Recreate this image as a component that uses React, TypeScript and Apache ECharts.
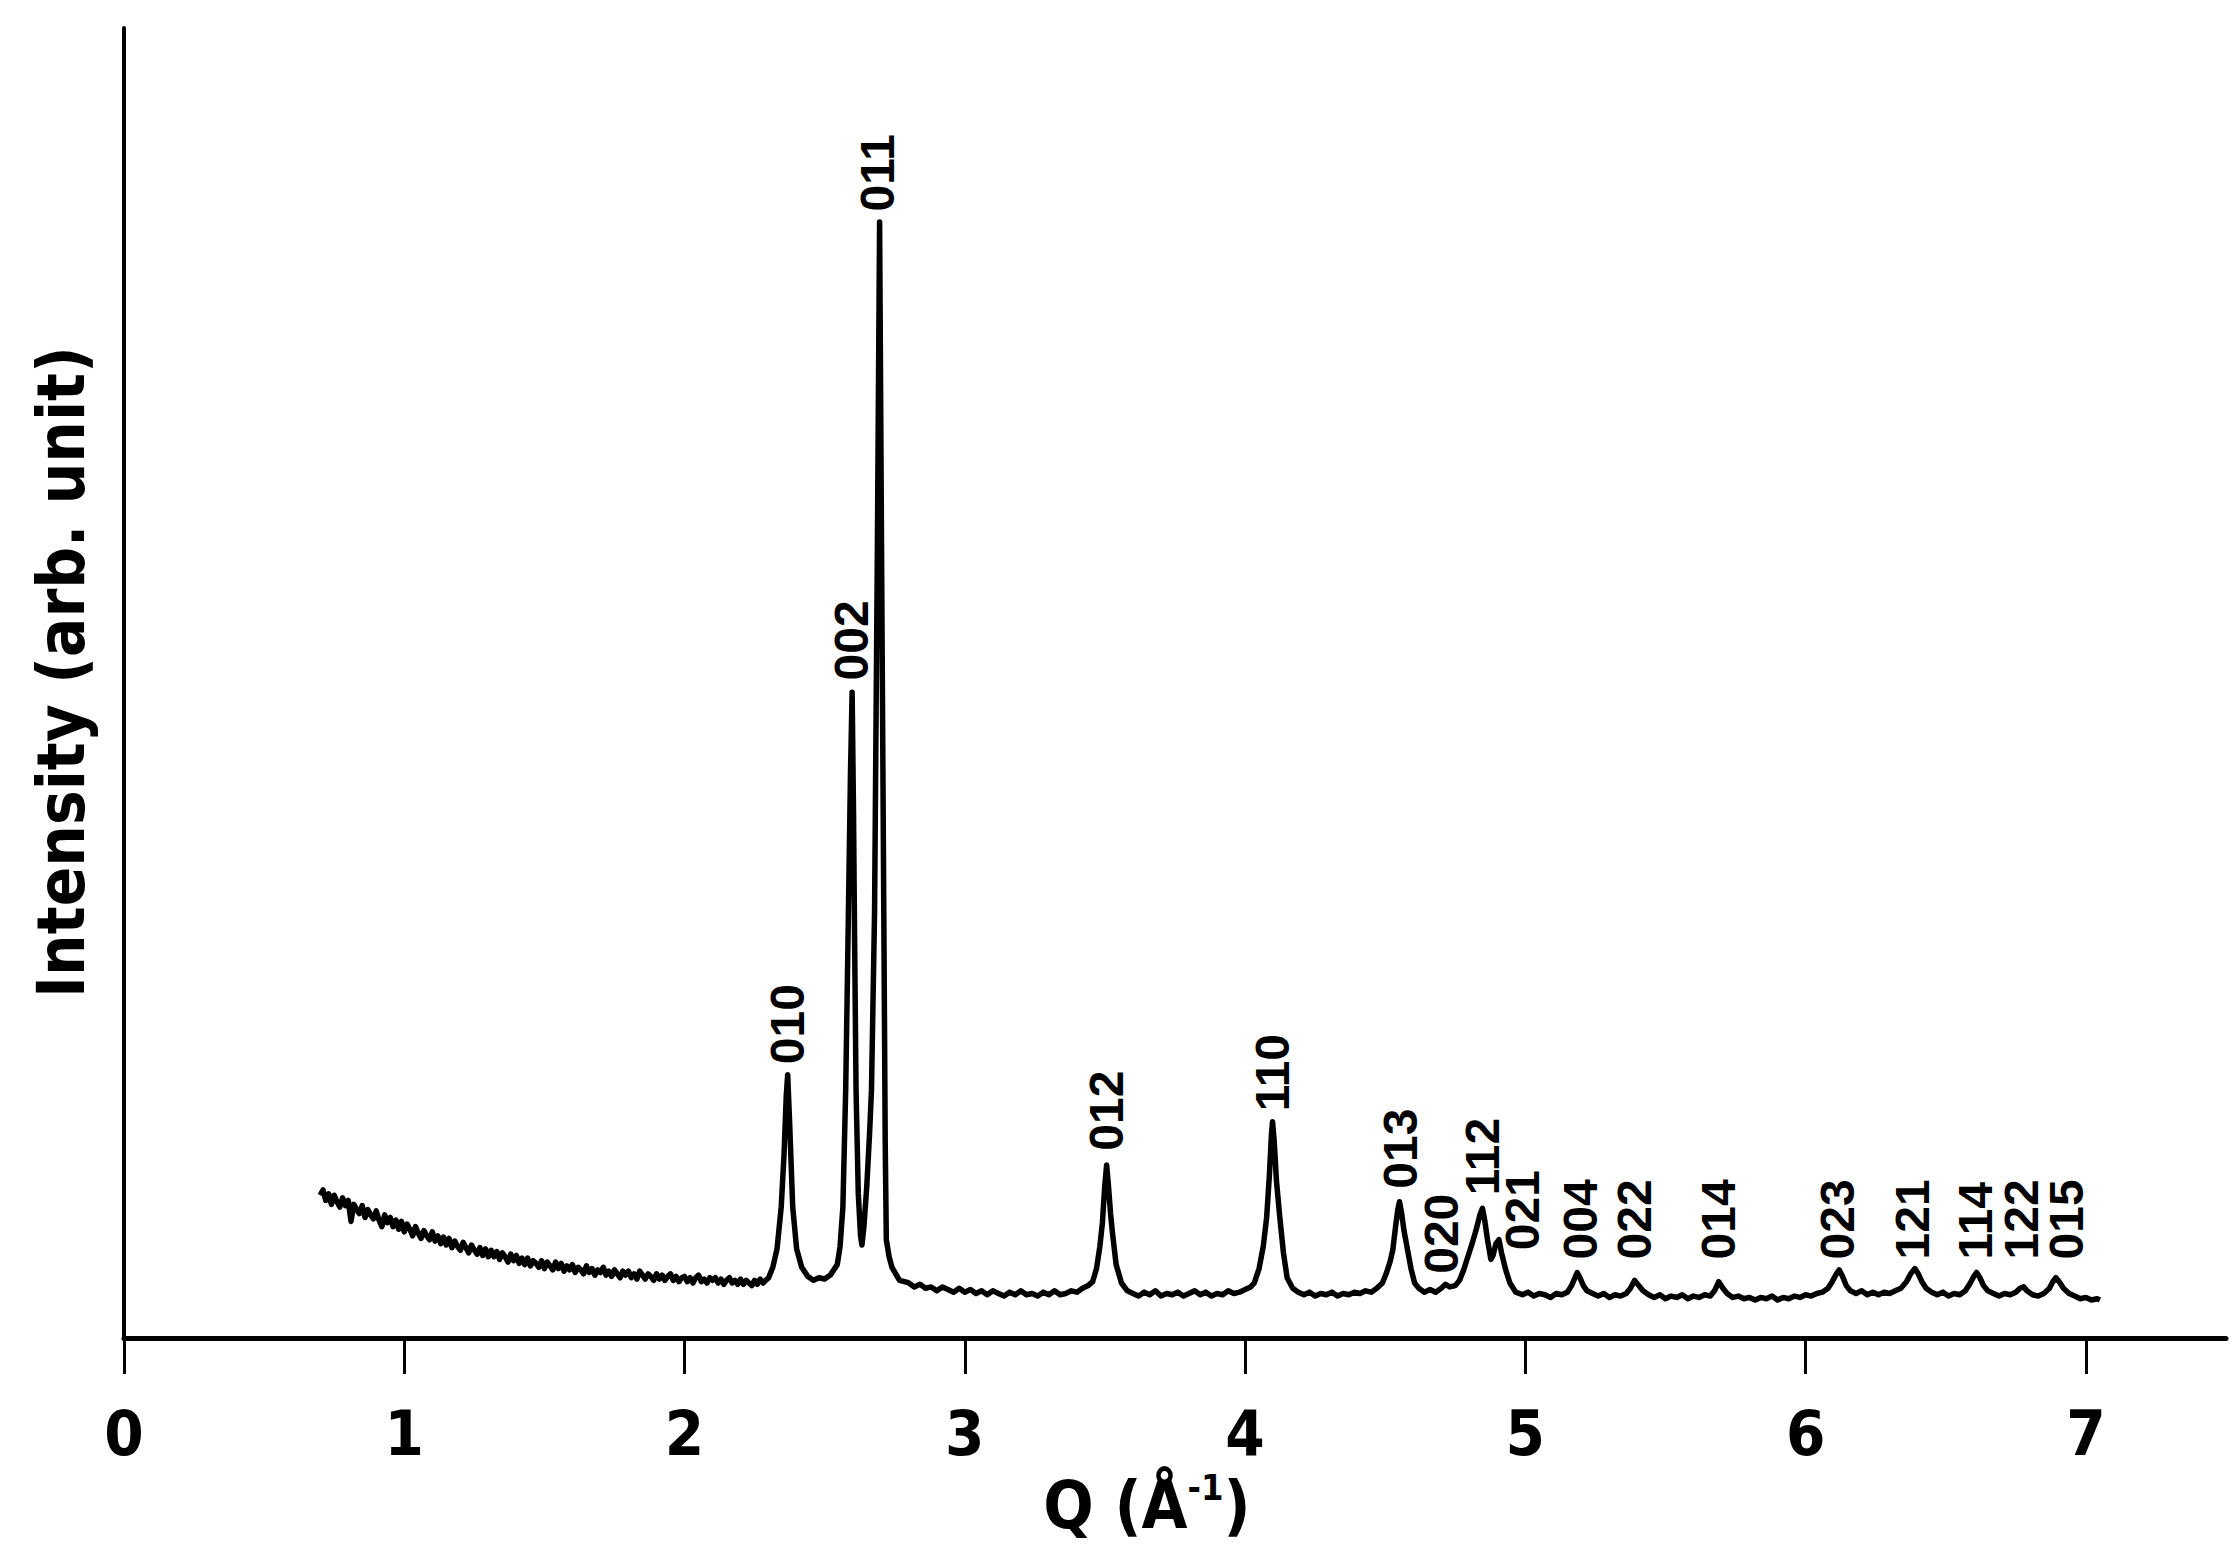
import React, { useEffect, useRef } from "react";
import * as echarts from "echarts";

// Diffraction profile: [Q (Å^-1), intensity (arb. unit, 0-100 scale)]
const backgroundPoints: [number, number][] = [
  [0.70, 10.9], [0.71, 11.3], [0.72, 10.5], [0.73, 11.0], [0.74, 10.2], [0.75, 10.9], [0.76, 10.4], [0.77, 10.0], [0.78, 10.7], [0.79, 10.1],
  [0.80, 10.5], [0.81, 8.9], [0.82, 10.2], [0.83, 9.8], [0.84, 9.5], [0.85, 10.1], [0.86, 9.2], [0.87, 9.8], [0.88, 9.4], [0.89, 9.1],
  [0.90, 9.7], [0.91, 9.0], [0.92, 8.5], [0.93, 9.4], [0.94, 8.8], [0.95, 9.2], [0.96, 8.5], [0.97, 9.0], [0.98, 8.3], [0.99, 8.9],
  [1.00, 8.1], [1.01, 8.7], [1.02, 8.3], [1.03, 7.8], [1.04, 8.5], [1.05, 8.0], [1.06, 7.6], [1.07, 8.2], [1.08, 7.8], [1.09, 7.5],
  [1.10, 8.1], [1.11, 7.4], [1.12, 7.8], [1.13, 7.2], [1.14, 7.7], [1.15, 7.1], [1.16, 7.6], [1.17, 6.9], [1.18, 7.4], [1.19, 7.0],
  [1.20, 6.7], [1.21, 7.3], [1.22, 6.9], [1.23, 6.5], [1.24, 7.1], [1.25, 6.7], [1.26, 6.4], [1.27, 6.9], [1.28, 6.3], [1.29, 6.8],
  [1.30, 6.2], [1.31, 6.7], [1.32, 6.2], [1.33, 6.6], [1.34, 6.0], [1.35, 6.5], [1.36, 6.2], [1.37, 5.8], [1.38, 6.4], [1.39, 5.9],
  [1.40, 6.3], [1.41, 5.7], [1.42, 6.1], [1.43, 5.6], [1.44, 6.1], [1.45, 5.5], [1.46, 5.9], [1.47, 5.7], [1.48, 5.4], [1.49, 5.9],
  [1.50, 5.3], [1.51, 5.8], [1.52, 5.5], [1.53, 5.2], [1.54, 5.8], [1.55, 5.3], [1.56, 5.7], [1.57, 5.1], [1.58, 5.5], [1.59, 5.2],
  [1.60, 5.6], [1.61, 5.0], [1.62, 5.4], [1.63, 5.2], [1.64, 4.9], [1.65, 5.5], [1.66, 5.0], [1.67, 5.3], [1.68, 4.8], [1.69, 5.2],
  [1.70, 5.0], [1.71, 5.4], [1.72, 4.8], [1.73, 5.1], [1.74, 4.7], [1.75, 5.2], [1.76, 4.9], [1.77, 4.6], [1.78, 5.1], [1.79, 4.8],
  [1.80, 5.1], [1.81, 4.6], [1.82, 4.9], [1.83, 4.5], [1.84, 5.1], [1.85, 4.8], [1.86, 4.5], [1.87, 4.9], [1.88, 4.7], [1.89, 4.4],
  [1.90, 4.9], [1.91, 4.5], [1.92, 4.8], [1.93, 4.4], [1.94, 4.7], [1.95, 4.9], [1.96, 4.4], [1.97, 4.7], [1.98, 4.3], [1.99, 4.6],
  [2.00, 4.7], [2.01, 4.3], [2.02, 4.6], [2.03, 4.2], [2.04, 4.6], [2.05, 4.8], [2.06, 4.3], [2.07, 4.5], [2.08, 4.2], [2.09, 4.6],
  [2.10, 4.4], [2.11, 4.6], [2.12, 4.2], [2.13, 4.5], [2.14, 4.1], [2.15, 4.4], [2.16, 4.6], [2.17, 4.2], [2.18, 4.4], [2.19, 4.1],
  [2.20, 4.5], [2.21, 4.1], [2.22, 4.4], [2.23, 4.2], [2.24, 4.0], [2.25, 4.4], [2.26, 4.1], [2.27, 4.5], [2.28, 4.2], [2.29, 4.4],
];

const strongPeakPoints: [number, number][] = [
  // 010
  [2.30, 4.6], [2.315, 5.4], [2.33, 6.8], [2.345, 10.0], [2.355, 14.0], [2.363, 18.5], [2.368, 20.1], [2.374, 17.0],
  [2.38, 13.5], [2.386, 10.0], [2.40, 6.8], [2.418, 5.4], [2.44, 4.7], [2.46, 4.4], [2.48, 4.6], [2.50, 4.5], [2.52, 4.8],
  // 002
  [2.545, 5.6], [2.555, 7.0], [2.565, 10.0], [2.575, 18.9], [2.583, 30.0], [2.592, 43.0], [2.598, 49.3], [2.603, 40.0],
  [2.607, 30.0], [2.612, 18.9], [2.62, 11.0], [2.628, 7.8], [2.633, 7.1],
  // 011
  [2.64, 8.5], [2.65, 11.5], [2.66, 15.5], [2.667, 18.9], [2.678, 32.5], [2.688, 60.0], [2.696, 85.2], [2.703, 60.0],
  [2.711, 32.5], [2.716, 15.0], [2.72, 7.5], [2.73, 6.2], [2.74, 5.4], [2.767, 4.4], [2.785, 4.3],
];

const midPeakPoints: [number, number][] = [
  [2.80, 4.2], [2.82, 3.9], [2.84, 4.1], [2.86, 3.8], [2.88, 3.9], [2.90, 3.6], [2.92, 3.9], [2.94, 3.7], [2.96, 3.5], [2.98, 3.8],
  [3.00, 3.5], [3.02, 3.7], [3.04, 3.4], [3.06, 3.6], [3.08, 3.3], [3.10, 3.6], [3.12, 3.4], [3.14, 3.2], [3.16, 3.5], [3.18, 3.3],
  [3.20, 3.6], [3.22, 3.3], [3.24, 3.4], [3.26, 3.2], [3.28, 3.5], [3.30, 3.3], [3.32, 3.6], [3.34, 3.3], [3.36, 3.4], [3.38, 3.6],
  [3.40, 3.5], [3.42, 3.8], [3.44, 4.0],
  // 012
  [3.456, 4.3], [3.47, 5.3], [3.482, 7.0], [3.491, 8.8], [3.499, 11.5], [3.506, 13.2], [3.513, 11.5], [3.52, 9.5],
  [3.527, 8.0], [3.54, 5.6], [3.559, 4.2], [3.58, 3.6],
  [3.60, 3.4], [3.62, 3.2], [3.64, 3.5], [3.66, 3.3], [3.68, 3.6], [3.70, 3.2], [3.72, 3.4], [3.74, 3.3], [3.76, 3.5], [3.78, 3.2],
  [3.80, 3.4], [3.82, 3.6], [3.84, 3.3], [3.86, 3.5], [3.88, 3.2], [3.90, 3.4], [3.92, 3.3], [3.94, 3.6], [3.96, 3.4], [3.98, 3.5],
  [4.00, 3.7], [4.02, 3.9],
  // 110
  [4.033, 4.2], [4.05, 5.3], [4.065, 7.0], [4.077, 9.2], [4.087, 12.5], [4.094, 15.5], [4.098, 16.5], [4.104, 15.0],
  [4.112, 12.0], [4.124, 9.2], [4.137, 6.5], [4.15, 4.6], [4.17, 3.8], [4.19, 3.5],
  [4.21, 3.3], [4.23, 3.5], [4.25, 3.2], [4.27, 3.4], [4.29, 3.3], [4.31, 3.5], [4.33, 3.2], [4.35, 3.4], [4.37, 3.3], [4.39, 3.5],
  [4.41, 3.4], [4.43, 3.6], [4.45, 3.5], [4.47, 3.8],
  // 013, 020
  [4.49, 4.2], [4.505, 5.0], [4.517, 5.8], [4.527, 6.7], [4.537, 8.5], [4.545, 9.8], [4.551, 10.4], [4.558, 9.6],
  [4.567, 8.2], [4.58, 6.7], [4.592, 5.3], [4.605, 4.2], [4.62, 3.8], [4.64, 3.5], [4.66, 3.7], [4.68, 3.5], [4.70, 3.8],
  [4.715, 4.1], [4.73, 3.9], [4.75, 4.0],
  // 112, 021
  [4.765, 4.4], [4.78, 5.2], [4.795, 6.2], [4.81, 7.2], [4.825, 8.3], [4.838, 9.4], [4.847, 9.9], [4.855, 9.0],
  [4.865, 7.5], [4.877, 6.0], [4.885, 6.3], [4.895, 7.2], [4.906, 7.5], [4.915, 6.5], [4.93, 5.2], [4.945, 4.2],
  [4.966, 3.5], [4.99, 3.3],
];

const weakPeakPoints: [number, number][] = [
  [5.01, 3.5], [5.03, 3.2], [5.05, 3.4], [5.07, 3.3], [5.09, 3.1], [5.11, 3.4], [5.13, 3.3], [5.15, 3.5], [5.165, 4.0],
  // 004
  [5.175, 4.5], [5.185, 5.0], [5.195, 4.6], [5.207, 4.0], [5.22, 3.6], [5.24, 3.4], [5.26, 3.2], [5.28, 3.4], [5.30, 3.1],
  [5.32, 3.3], [5.34, 3.2], [5.36, 3.4], [5.375, 3.8],
  // 022
  [5.39, 4.4], [5.405, 4.0], [5.42, 3.6], [5.44, 3.3], [5.46, 3.1], [5.48, 3.3], [5.50, 3.0], [5.52, 3.2], [5.54, 3.1],
  [5.56, 3.3], [5.58, 3.0], [5.60, 3.2], [5.62, 3.1], [5.64, 3.3], [5.66, 3.2], [5.675, 3.6],
  // 014
  [5.69, 4.3], [5.705, 3.8], [5.72, 3.4], [5.74, 3.1], [5.76, 3.2], [5.78, 3.0], [5.80, 3.1], [5.82, 2.9], [5.84, 3.1],
  [5.86, 3.0], [5.88, 3.2], [5.90, 2.9], [5.92, 3.1], [5.94, 3.0], [5.96, 3.2], [5.98, 3.1], [6.00, 3.3], [6.02, 3.2],
  [6.04, 3.4], [6.06, 3.5], [6.08, 3.8],
  // 023
  [6.095, 4.3], [6.11, 4.9], [6.12, 5.2], [6.132, 4.7], [6.145, 4.0], [6.16, 3.6], [6.18, 3.4], [6.20, 3.6], [6.22, 3.3],
  [6.24, 3.5], [6.26, 3.3], [6.28, 3.5], [6.30, 3.4], [6.32, 3.6], [6.34, 3.8], [6.36, 4.3],
  // 121
  [6.375, 4.9], [6.39, 5.3], [6.402, 4.9], [6.415, 4.3], [6.43, 3.8], [6.45, 3.5], [6.47, 3.3], [6.49, 3.5], [6.51, 3.2],
  [6.53, 3.4], [6.55, 3.3], [6.57, 3.6], [6.585, 4.1],
  // 114
  [6.60, 4.7], [6.61, 5.0], [6.622, 4.6], [6.635, 4.0], [6.65, 3.6], [6.67, 3.4], [6.69, 3.2], [6.71, 3.4], [6.73, 3.3],
  [6.75, 3.5], [6.765, 3.8],
  // 122
  [6.778, 3.9], [6.79, 3.6], [6.81, 3.3], [6.83, 3.2], [6.85, 3.4], [6.87, 3.8], [6.882, 4.3],
  // 015
  [6.893, 4.6], [6.905, 4.3], [6.92, 3.8], [6.94, 3.4], [6.96, 3.2], [6.98, 3.0], [7.00, 3.1], [7.02, 2.9], [7.04, 3.0],
  [7.05, 2.9],
];

// Reflection (Miller index) labels: name, Q position, intensity at which the text starts
const peakNames: string[] = [
  "010", "002", "011", "012", "110", "013", "020", "112", "021",
  "004", "022", "014", "023", "121", "114", "122", "015",
];
const peakLabelQ: number[] = [
  2.368, 2.594, 2.69, 3.504, 4.097, 4.553, 4.70, 4.846, 4.99,
  5.198, 5.39, 5.69, 6.115, 6.382, 6.607, 6.77, 6.93,
];
const peakLabelBase: number[] = [
  20.9, 50.2, 86.0, 14.3, 17.3, 11.4, 4.9, 10.9, 6.7,
  6.0, 6.0, 6.0, 6.0, 6.0, 6.0, 6.0, 6.0,
];

const xTicks: number[] = [0, 1, 2, 3, 4, 5, 6, 7];

const FONT = "'Liberation Sans Narrow', 'DejaVu Sans Condensed', 'Liberation Sans', sans-serif";

export default function App() {
  const ref = useRef<HTMLDivElement>(null);

  useEffect(() => {
    if (!ref.current) return;
    const chart = echarts.init(ref.current, null, { renderer: "svg" });
    const lineData = [...backgroundPoints, ...strongPeakPoints, ...midPeakPoints, ...weakPeakPoints];
    const labelData = peakNames.map((n, i) => ({ name: n, value: [peakLabelQ[i], peakLabelBase[i]] }));

    chart.setOption({
      animation: false,
      backgroundColor: "#ffffff",
      grid: { left: 124, right: 11, top: 28, bottom: 228, containLabel: false },
      xAxis: {
        type: "value",
        min: 0,
        max: 7.5,
        interval: 1,
        name: "{a|Q (Å}{s|-1}{a|)}",
        nameLocation: "middle",
        nameGap: 126,
        nameTextStyle: {
          padding: [0, 56, 0, 0],
          rich: {
            a: { fontSize: 66, fontWeight: "bold", fontFamily: FONT, color: "#000", lineHeight: 72 },
            s: { fontSize: 36, fontWeight: "bold", fontFamily: FONT, color: "#000", verticalAlign: "top", lineHeight: 72, padding: [0, 0, 30, 0] },
          },
        },
        axisLine: { show: true, onZero: false, lineStyle: { color: "#000", width: 5 } },
        axisTick: { show: true, customValues: xTicks, length: 36, inside: false, lineStyle: { color: "#000", width: 3 } },
        axisLabel: {
          show: true,
          customValues: xTicks,
          margin: 64,
          fontSize: 63,
          fontWeight: "bold",
          fontFamily: FONT,
          color: "#000",
          formatter: (v: number) => String(v),
        },
        splitLine: { show: false },
      },
      yAxis: {
        type: "value",
        min: 0,
        max: 100,
        name: "Intensity (arb. unit)",
        nameLocation: "middle",
        nameGap: 30,
        nameTextStyle: { fontSize: 65, fontWeight: "bold", fontFamily: FONT, color: "#000", padding: [0, 0, 0, 22] },
        axisLine: { show: true, onZero: false, lineStyle: { color: "#000", width: 4 } },
        axisTick: { show: false },
        axisLabel: { show: false },
        splitLine: { show: false },
      },
      series: [
        {
          type: "line",
          data: lineData,
          showSymbol: false,
          symbol: "none",
          lineStyle: { color: "#000", width: 5.5, join: "round" },
          silent: true,
          z: 3,
        },
        {
          type: "scatter",
          data: labelData,
          symbolSize: 1,
          itemStyle: { color: "rgba(0,0,0,0)", opacity: 1 },
          silent: true,
          z: 4,
          label: {
            show: true,
            formatter: "{b}",
            position: "inside",
            rotate: 90,
            align: "left",
            verticalAlign: "middle",
            fontSize: 48,
            fontWeight: "bold",
            fontFamily: "'Liberation Sans', 'Arimo', sans-serif",
            color: "#000",
            opacity: 1,
            textBorderWidth: 0,
          },
        },
      ],
    });

    return () => chart.dispose();
  }, []);

  return (
    <div
      ref={ref}
      style={{ position: "fixed", left: 0, top: 0, width: 2237, height: 1566, background: "#fff" }}
    />
  );
}
